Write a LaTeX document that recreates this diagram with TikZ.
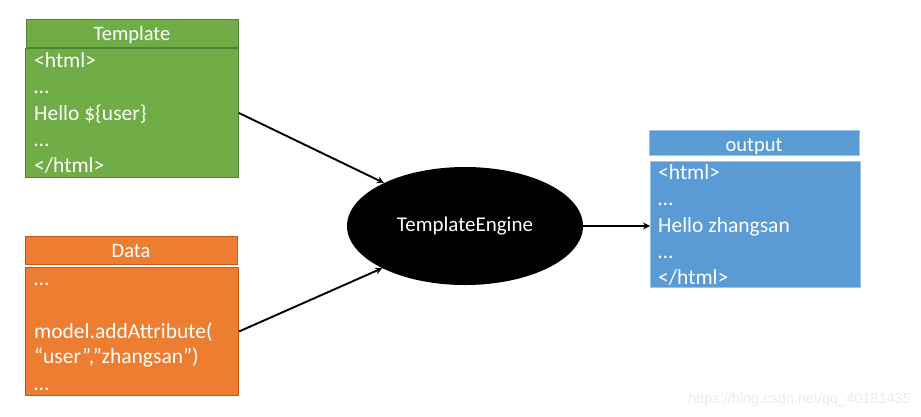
\documentclass[tikz,border=0pt]{standalone}
\usepackage{fontspec}
\setmainfont{Carlito}
\newfontfamily\wmfont{Liberation Sans}
\usetikzlibrary{shapes.geometric,arrows.meta}
\definecolor{tgreen}{HTML}{70AD47}
\definecolor{tgreenline}{HTML}{548235}
\definecolor{torange}{HTML}{ED7D31}
\definecolor{torangeline}{HTML}{C55A11}
\definecolor{tblue}{HTML}{5B9BD5}
\definecolor{tblueline}{HTML}{9DC3E6}
\tikzset{
  box/.style={draw, line width=1pt, inner sep=0pt, anchor=north west},
  headtext/.style={text=white, font=\fontsize{20.5}{24}\selectfont},
  linetext/.style={text=white, inner sep=0pt, anchor=base west, font=\fontsize{21.5}{26}\selectfont},
  arr/.style={draw=black, line width=1.9pt, -{Stealth[length=7pt,width=7pt]}},
}
\begin{document}
\begin{tikzpicture}[x=1pt,y=-1pt]
\useasboundingbox (0,0) rectangle (921,416);
% Template
\node (tplhead) [box, fill=tgreen, draw=tgreenline, minimum width=212pt, minimum height=28pt] at (26,19) {};
\node (tplheadtxt) [headtext, anchor=base] at (132,40) {Template};
\node (tplbody) [box, fill=tgreen, draw=tgreenline, minimum width=213pt, minimum height=129pt] at (25,48) {};
\node (t1) [linetext] at (34,67) {<html>};
\node (t2) [linetext] at (34,93) {…};
\node (t3) [linetext] at (34,120) {Hello \$\{user\}};
\node (t4) [linetext] at (34,146) {…};
\node (t5) [linetext] at (34,172) {</html>};
% Data
\node (datahead) [box, fill=torange, draw=torangeline, minimum width=212pt, minimum height=28pt] at (25,236) {};
\node (dataheadtxt) [headtext, anchor=base] at (131,257) {Data};
\node (databody) [box, fill=torange, draw=torangeline, minimum width=213pt, minimum height=128pt] at (25,267) {};
\node (d1) [linetext] at (34,285) {…};
\node (d2) [linetext] at (34,338) {model.addAttribute(};
\node (d3) [linetext] at (34,363) {“user”,”zhangsan”)};
\node (d4) [linetext] at (34,390) {…};
% Output
\node (outhead) [box, fill=tblue, draw=tblueline, minimum width=210pt, minimum height=25pt] at (649,130) {};
\node (outheadtxt) [headtext, anchor=base] at (754,151) {output};
\node (outbody) [box, fill=tblue, draw=tblueline, minimum width=210pt, minimum height=126pt] at (650,161) {};
\node (o1) [linetext] at (658,179) {<html>};
\node (o2) [linetext] at (658,205) {…};
\node (o3) [linetext] at (658,232) {Hello zhangsan};
\node (o4) [linetext] at (658,258) {…};
\node (o5) [linetext] at (658,284) {</html>};
% Engine
\node (engine) [ellipse, fill=black, minimum width=236pt, minimum height=118pt, inner sep=0pt,
  text=white, font=\fontsize{21}{25}\selectfont] at (465,226) {TemplateEngine};
% Connectors
\draw[arr] (tplbody.east) -- (engine.152);
\draw[arr] (databody.east) -- (engine.207);
\draw[arr] (engine.east) -- (engine.east -| outbody.west);
% Watermark
\node (wm) [anchor=base east, inner sep=0pt, text=black!8, font=\wmfont\fontsize{14.5}{17}\selectfont] at (911,403) {https://blog.csdn.net/qq\_40181435};
\end{tikzpicture}
\end{document}
